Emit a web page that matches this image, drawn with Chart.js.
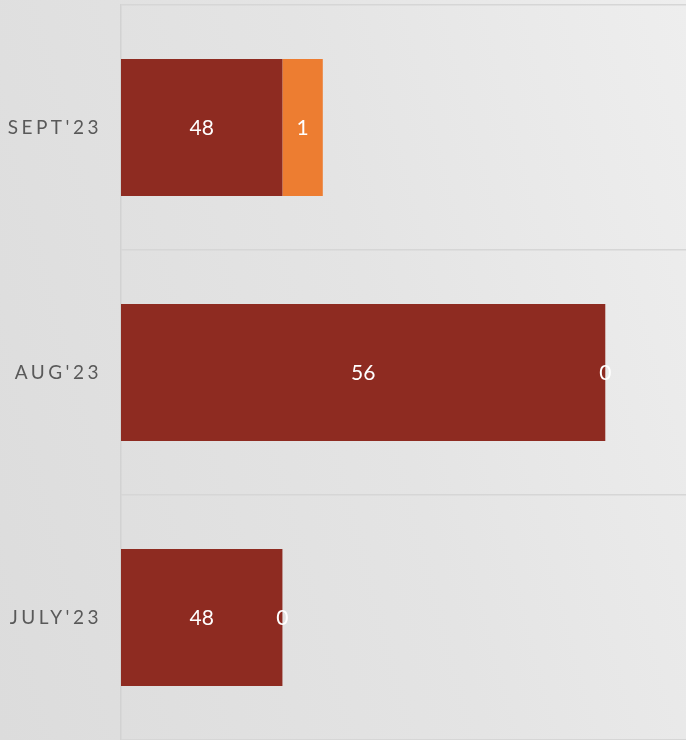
<!DOCTYPE html>
<html>
<head>
<meta charset="utf-8">
<script src="https://cdn.jsdelivr.net/npm/chart.js@4"></script>
<style>
  html, body { margin: 0; padding: 0; }
  body {
    width: 686px; height: 740px; overflow: hidden;
    background: linear-gradient(75deg, #dcdcdc 0%, #e4e4e4 55%, #eeeeee 100%);
  }
  #wrap { position: relative; width: 686px; height: 740px; }
</style>
</head>
<body>
<div id="wrap"><canvas id="bars"></canvas></div>
<script>
// months, top to bottom
let months = ["SEPT'23", "AUG'23", "JULY'23"];
// the two stacked series
let first_values = [48, 56, 48];
let second_values = [1, 0, 0];

let colors = ['#8e2b21', '#ed7d31'];

// writes the number in the middle of the visible part of each bar
const bar_labels = {
  id: 'bar_labels',
  afterDatasetsDraw(chart) {
    const ctx = chart.ctx;
    const area = chart.chartArea;
    ctx.save();
    ctx.letterSpacing = '0px';
    ctx.fillStyle = '#ffffff';
    ctx.font = '21px Lato';
    ctx.textAlign = 'center';
    ctx.textBaseline = 'middle';
    chart.data.datasets.forEach((ds, i) => {
      chart.getDatasetMeta(i).data.forEach((bar, j) => {
        const left = Math.max(Math.min(bar.base, bar.x), area.left);
        const right = Math.max(bar.base, bar.x);
        ctx.fillText(String(ds.data[j]), (left + right) / 2, bar.y + 1);
      });
    });
    ctx.restore();
  }
};

// spaced out month names
const spacing = {
  id: 'spacing',
  beforeDraw(chart) { chart.ctx.letterSpacing = '3.5px'; },
  beforeDatasetsDraw(chart) { chart.ctx.letterSpacing = '0px'; }
};

const ctx = document.getElementById('bars').getContext('2d');

let chart = new Chart(ctx, {
  type: 'bar',
  data: {
    labels: months,
    datasets: [
      { label: 'first', data: first_values, backgroundColor: colors[0], borderWidth: 0 },
      { label: 'second', data: second_values, backgroundColor: colors[1], borderWidth: 0 }
    ]
  },
  options: {
    indexAxis: 'y',
    responsive: true,
    maintainAspectRatio: false,
    animation: false,
    layout: { padding: { top: 5, right: 0, bottom: 0, left: 0 } },
    datasets: { bar: { categoryPercentage: 1, barPercentage: 0.56 } },
    plugins: {
      legend: { display: false },
      tooltip: { enabled: false }
    },
    scales: {
      x: {
        stacked: true,
        display: false,
        min: 44,
        max: 58
      },
      y: {
        stacked: true,
        afterFit(scale) {
          scale.width = 121;
          scale.paddingTop = 0;
          scale.paddingBottom = 0;
        },
        grid: { color: '#d6d6d6', lineWidth: 1.5, drawTicks: false },
        border: { color: '#d2d2d2', width: 1.5 },
        ticks: {
          color: '#595959',
          padding: 19,
          font: { family: 'Lato', size: 19 }
        }
      }
    }
  },
  plugins: [bar_labels, spacing]
});
</script>
</body>
</html>
